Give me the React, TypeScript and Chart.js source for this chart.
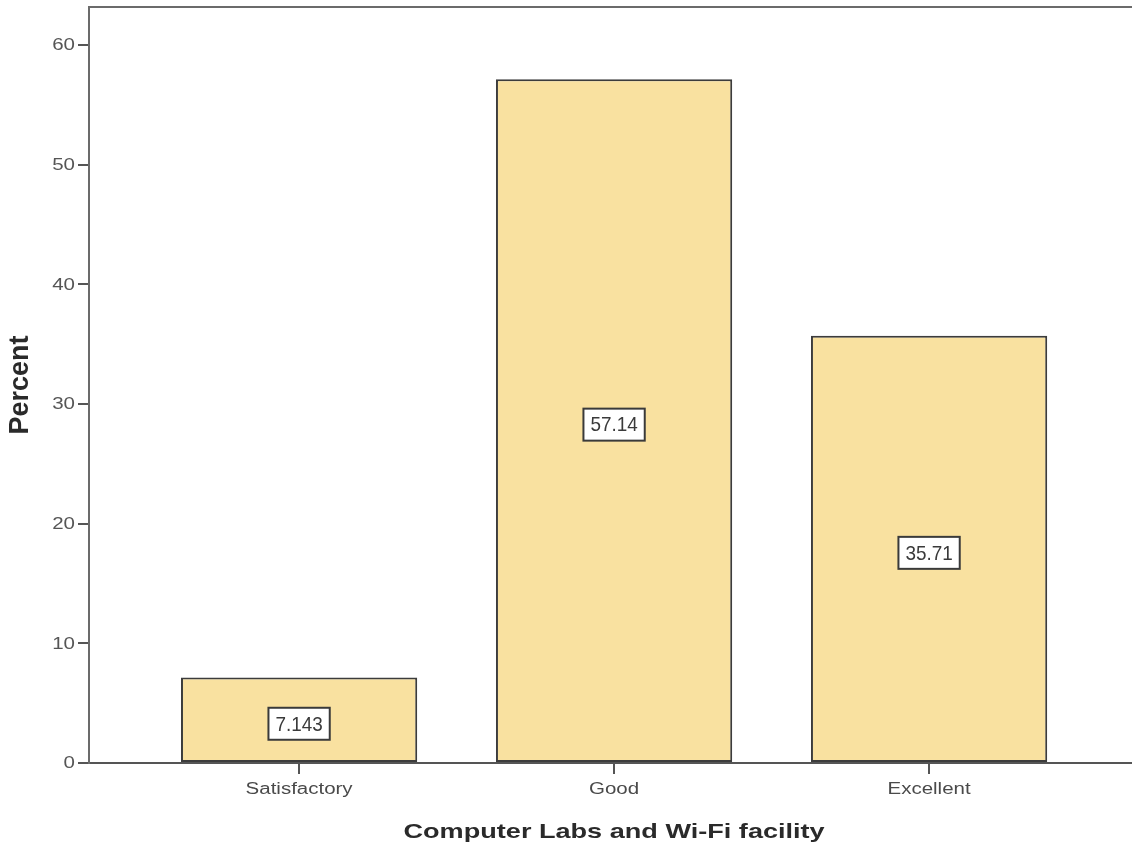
import React, { useEffect, useRef } from "react";
import { Chart, registerables } from "chart.js";

Chart.register(...registerables);

const categories: string[] = ["Satisfactory", "Good", "Excellent"];
const percentValues: number[] = [7.143, 57.14, 35.71];
const yTickValues: number[] = [0, 10, 20, 30, 40, 50, 60];
const xTitle = "Computer Labs and Wi-Fi facility";
const yTitle = "Percent";

const FONT = "'Liberation Sans', Arial, sans-serif";

function stretchedText(ctx: any, text: string, x: number, y: number, sx: number, align: string) {
  ctx.save();
  ctx.translate(x, y);
  ctx.scale(sx, 1);
  ctx.textAlign = align;
  ctx.textBaseline = "middle";
  ctx.fillText(text, 0, 0);
  ctx.restore();
}

const framePlugin = {
  id: "frameAndLabels",
  afterDraw(chart: any) {
    const ctx = chart.ctx;
    const area = chart.chartArea;
    const xs = chart.scales.x;
    const ys = chart.scales.y;
    ctx.save();
    // top frame line
    ctx.strokeStyle = "#6b6b6b";
    ctx.lineWidth = 2;
    ctx.beginPath();
    ctx.moveTo(area.left - 1, area.top);
    ctx.lineTo(area.right + 2, area.top);
    ctx.stroke();

    // y tick labels
    ctx.font = `16px ${FONT}`;
    ctx.fillStyle = "#555555";
    yTickValues.forEach((v) => {
      stretchedText(ctx, String(v), 75, ys.getPixelForValue(v) + 1, 1.28, "right");
    });
    // x tick labels
    ctx.fillStyle = "#4a4a4a";
    categories.forEach((c, i) => {
      stretchedText(ctx, c, xs.getPixelForValue(i), 790, 1.28, "center");
    });

    // value labels
    const meta = chart.getDatasetMeta(0);
    ctx.font = `21px ${FONT}`;
    meta.data.forEach((bar: any, i: number) => {
      const v = percentValues[i];
      const text = Number(v).toPrecision(4);
      const cx = bar.x;
      const cy = (bar.y + bar.base) / 2 + 4;
      const w = ctx.measureText(text).width * 0.9 + 14;
      const h = 32;
      ctx.fillStyle = "#ffffff";
      ctx.fillRect(cx - w / 2, cy - h / 2, w, h);
      ctx.strokeStyle = "#3a3a3a";
      ctx.lineWidth = 2;
      ctx.strokeRect(cx - w / 2, cy - h / 2, w, h);
      ctx.fillStyle = "#3a3a3a";
      stretchedText(ctx, text, cx, cy + 1, 0.9, "center");
    });

    // axis titles
    ctx.font = `bold 21px ${FONT}`;
    ctx.fillStyle = "#2a2a2a";
    stretchedText(ctx, xTitle, (xs.getPixelForValue(0) + xs.getPixelForValue(2)) / 2, 832, 1.29, "center");
    ctx.save();
    ctx.translate(21, 385);
    ctx.rotate(-Math.PI / 2);
    ctx.font = `bold 27px ${FONT}`;
    ctx.textAlign = "center";
    ctx.textBaseline = "middle";
    ctx.fillText(yTitle, 0, 0);
    ctx.restore();
    ctx.restore();
  },
};

export default function App() {
  const canvasRef = useRef<HTMLCanvasElement | null>(null);

  useEffect(() => {
    const canvas = canvasRef.current;
    if (!canvas) return;
    const chart = new Chart(canvas, {
      type: "bar",
      data: {
        datasets: [
          {
            data: percentValues.map((v, i) => ({ x: i, y: v })),
            backgroundColor: "#F9E1A0",
            borderColor: "#3c3c3c",
            borderWidth: 2,
            borderSkipped: false,
            categoryPercentage: 1,
            barPercentage: 0.75,
          },
        ],
      },
      options: {
        responsive: false,
        animation: false,
        layout: { padding: { top: 7, right: 1, left: 0, bottom: 0 } },
        plugins: {
          legend: { display: false },
          tooltip: { enabled: false },
        },
        scales: {
          x: {
            type: "linear",
            offset: false,
            min: -0.667,
            max: 2.641,
            afterFit: (s: any) => {
              s.height = 89;
              s.paddingLeft = 0;
              s.paddingRight = 0;
            },
            afterBuildTicks: (s: any) => {
              s.ticks = categories.map((_, i) => ({ value: i }));
            },
            ticks: { display: false, autoSkip: false },
            grid: {
              display: true,
              offset: false,
              drawOnChartArea: false,
              drawTicks: true,
              tickLength: 11,
              color: "#555555",
              lineWidth: 2,
            },
            border: { display: true, color: "#555555", width: 2 },
            title: { display: false },
          },
          y: {
            type: "linear",
            min: 0,
            max: 63.18,
            afterFit: (s: any) => {
              s.width = 89;
              s.paddingTop = 0;
              s.paddingBottom = 0;
            },
            afterBuildTicks: (s: any) => {
              s.ticks = yTickValues.map((v) => ({ value: v }));
            },
            ticks: { display: false },
            grid: {
              display: true,
              drawOnChartArea: false,
              drawTicks: true,
              tickLength: 11,
              color: "#555555",
              lineWidth: 2,
            },
            border: { display: true, color: "#6b6b6b", width: 2 },
            title: { display: false },
          },
        },
      },
      plugins: [framePlugin],
    } as any);
    return () => chart.destroy();
  }, []);

  return (
    <canvas
      ref={canvasRef}
      width={1132}
      height={852}
      style={{ position: "absolute", left: 0, top: 0, width: 1132, height: 852, background: "#ffffff" }}
    />
  );
}
